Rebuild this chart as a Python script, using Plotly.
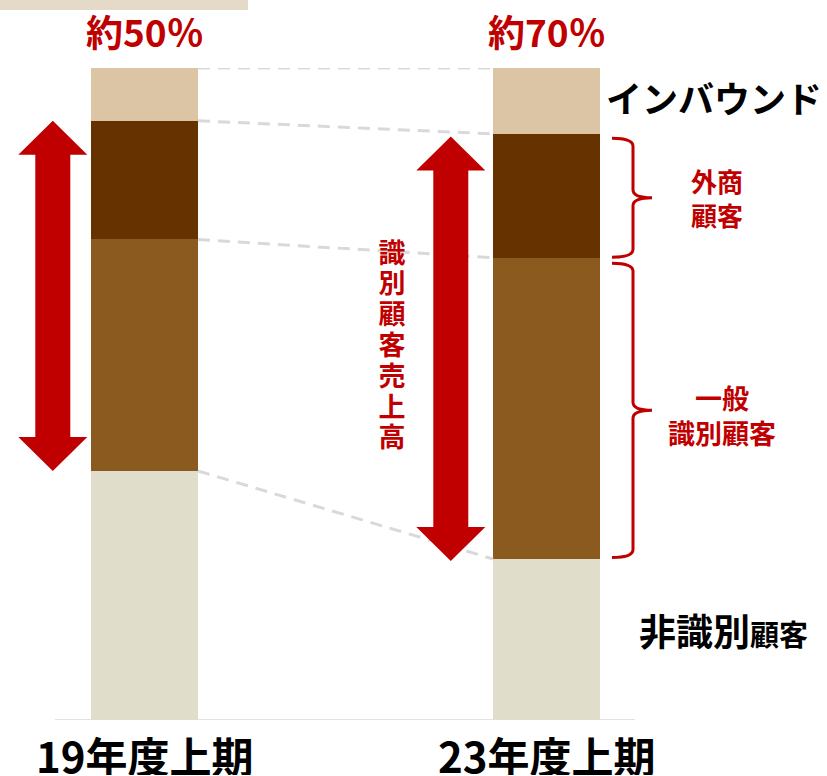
import plotly.graph_objects as go

# ---- data ----
categories = ["19年度上期", "23年度上期"]
series_names = ["非識別顧客", "一般識別顧客", "外商顧客", "インバウンド"]  # bottom -> top
non_identified = [38.2, 24.7]
general_identified = [35.5, 46.2]
gaiso = [18.2, 19.0]
inbound = [8.1, 10.1]
share_labels = ["約50%", "約70%"]
series_values = [non_identified, general_identified, gaiso, inbound]
series_colors = ["#E0DECB", "#8A5A1E", "#663300", "#DCC5A5"]

RED = "#C00000"
FONT = "Noto Sans CJK JP"

W, H = 827, 776
MT, MB = 68, 56
PLOT_H = H - MT - MB
X_PX_PER_UNIT = 402.0
X0 = -144.5 / X_PX_PER_UNIT
X1 = X0 + W / X_PX_PER_UNIT
BAR_W = 107 / X_PX_PER_UNIT


def px2x(px):
    return X0 + px / X_PX_PER_UNIT


def py2y(py):
    return (H - MB - py) / PLOT_H * 100


def py2paper(py):
    return (H - MB - py) / PLOT_H


def y2py(y):
    return H - MB - y / 100 * PLOT_H


xs = list(range(len(categories)))

fig = go.Figure()
for name, vals, col in zip(series_names, series_values, series_colors):
    fig.add_trace(go.Bar(x=xs, y=vals, name=name, width=BAR_W,
                         marker=dict(color=col, line=dict(width=0)),
                         hoverinfo="skip"))

# cumulative boundaries per bar
cum = []
for i in xs:
    c = [0]
    for vals in series_values:
        c.append(c[-1] + vals[i])
    cum.append(c)

shapes = []
# dashed connector lines between the bars
for k in [1, 2, 3, 4]:
    shapes.append(dict(type="line", xref="x", yref="y",
                       x0=0 + BAR_W / 2, y0=cum[0][k], x1=1 - BAR_W / 2, y1=cum[1][k],
                       line=dict(color="#D9D9D9", width=3, dash="12px,8px")))

# baseline
shapes.append(dict(type="line", xref="x", yref="y", x0=px2x(55), x1=px2x(635), y0=0, y1=0,
                   line=dict(color="#D9D9D9", width=1.5), layer="below"))

# top-left decorative band
shapes.append(dict(type="rect", xref="paper", yref="paper", x0=0, x1=248 / W,
                   y0=py2paper(10), y1=py2paper(0),
                   fillcolor="#E5DAC8", line=dict(width=0)))


# double-headed arrows spanning the identified customers (general + gaiso)
def arrow_path(cx_px, y_top, y_bot):
    hh = 34 / PLOT_H * 100
    hw = 34.5 / X_PX_PER_UNIT
    sw = 17.5 / X_PX_PER_UNIT
    cx = px2x(cx_px)
    pts = [(cx, y_top), (cx + hw, y_top - hh), (cx + sw, y_top - hh), (cx + sw, y_bot + hh),
           (cx + hw, y_bot + hh), (cx, y_bot), (cx - hw, y_bot + hh), (cx - sw, y_bot + hh),
           (cx - sw, y_top - hh), (cx - hw, y_top - hh)]
    return "M " + " L ".join(f"{x:.5f},{y:.4f}" for x, y in pts) + " Z"


shapes.append(dict(type="path", xref="x", yref="y", path=arrow_path(52.8, cum[0][3], cum[0][1]),
                   fillcolor=RED, line=dict(width=0)))
shapes.append(dict(type="path", xref="x", yref="y",
                   path=arrow_path(450.8, cum[1][3] - 0.4, cum[1][1] - 0.3),
                   fillcolor=RED, line=dict(width=0)))


# braces on the right of the second bar
def brace_path(top_px, bot_px):
    x0, xs_, xt = px2x(612), px2x(633), px2x(652)
    r = 8
    mid = (top_px + bot_px) / 2
    def P(x, py):
        return f"{x:.5f},{py2y(py):.4f}"
    return (f"M {P(x0, top_px)} Q {P(xs_, top_px)} {P(xs_, top_px + r)} "
            f"L {P(xs_, mid - r)} Q {P(xs_, mid)} {P(xt, mid)} "
            f"Q {P(xs_, mid)} {P(xs_, mid + r)} L {P(xs_, bot_px - r)} "
            f"Q {P(xs_, bot_px)} {P(x0, bot_px)}")


b1_top, b1_bot = y2py(cum[1][3]) + 4.5, y2py(cum[1][2]) - 0.5
b2_top, b2_bot = y2py(cum[1][2]) + 5.5, y2py(cum[1][1]) - 1.5
shapes.append(dict(type="path", xref="x", yref="y", path=brace_path(b1_top, b1_bot),
                   line=dict(color=RED, width=3)))
shapes.append(dict(type="path", xref="x", yref="y", path=brace_path(b2_top, b2_bot),
                   line=dict(color=RED, width=3)))

annotations = []
# category labels
for i, c in enumerate(categories):
    annotations.append(dict(x=i, y=py2paper(754), xref="x", yref="paper", text=f"<b>{c}</b>",
                            showarrow=False, font=dict(family=FONT, size=42, color="#000000"),
                            height=42, borderpad=0,
                            xanchor="center", yanchor="middle", valign="middle"))
# share labels
for i, s in enumerate(share_labels):
    s_full = s.replace("%", "％")
    annotations.append(dict(x=i, y=py2paper(31), xref="x", yref="paper", text=f"<b>{s_full}</b>",
                            showarrow=False, font=dict(family=FONT, size=37, color=RED),
                            xanchor="center", yanchor="middle"))
# segment labels
annotations.append(dict(x=px2x(604), y=py2y(97), xref="x", yref="y", text="<b>インバウンド</b>",
                        showarrow=False, font=dict(family=FONT, size=36, color="#000000"),
                        xanchor="left", yanchor="middle"))
annotations.append(dict(x=px2x(717), y=py2y((b1_top + b1_bot) / 2), xref="x", yref="y",
                        text="<b>外商<br>顧客</b>", showarrow=False,
                        font=dict(family=FONT, size=26, color=RED), xanchor="center", yanchor="middle"))
annotations.append(dict(x=px2x(722), y=py2y(415), xref="x", yref="y",
                        text="<b>一般<br>識別顧客</b>", showarrow=False,
                        font=dict(family=FONT, size=27, color=RED), xanchor="center", yanchor="middle"))
annotations.append(dict(x=px2x(637), y=py2y(630), xref="x", yref="y",
                        text="<b>非識別<span style='font-size:29px'>顧客</span></b>", showarrow=False,
                        font=dict(family=FONT, size=37, color="#000000"), xanchor="left", yanchor="middle"))
# vertical label (one character per line)
vtext = "識別顧客売上高"
for j, ch in enumerate(vtext):
    annotations.append(dict(x=px2x(392), y=py2y(251 + j * 30.8), xref="x", yref="y",
                            text=f"<b>{ch}</b>", showarrow=False, height=29, width=30,
                            borderpad=0,
                            font=dict(family=FONT, size=27, color=RED),
                            xanchor="center", yanchor="middle", valign="middle"))

fig.update_layout(
    width=W, height=H, template="none",
    margin=dict(l=0, r=0, t=MT, b=MB, pad=0),
    barmode="stack", bargap=0, showlegend=False,
    paper_bgcolor="white", plot_bgcolor="white",
    xaxis=dict(range=[X0, X1], showticklabels=False, showgrid=False, zeroline=False,
               showline=False, ticks="", fixedrange=True, automargin=False),
    yaxis=dict(range=[0, 100], showticklabels=False, showgrid=False, zeroline=False,
               showline=False, ticks="", fixedrange=True, automargin=False),
    shapes=shapes, annotations=annotations,
)

fig.write_html("out.html")
